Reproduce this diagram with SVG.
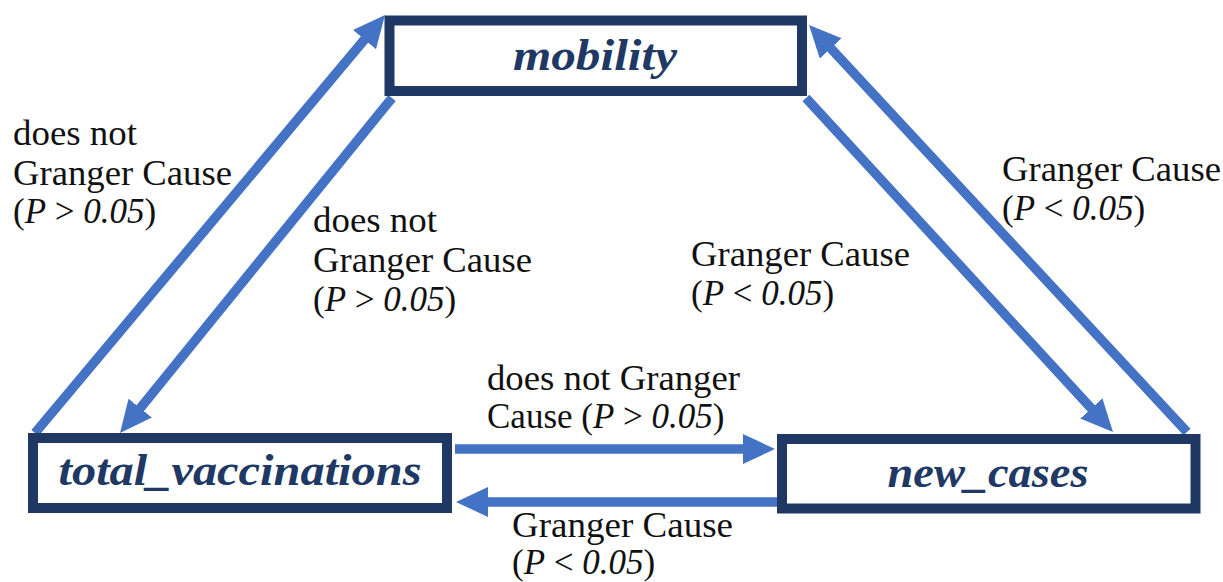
<svg xmlns="http://www.w3.org/2000/svg" width="1223" height="582" viewBox="0 0 1223 582">
  <style>
    .node rect { fill: #ffffff; stroke: #203864; stroke-width: 10; }
    .node text { font-family: "Liberation Serif", "Times New Roman", serif; font-style: italic; font-weight: bold; font-size: 44px; fill: #203864; text-anchor: middle; }
    .conn line { stroke: #4472C4; stroke-width: 9.5; fill: none; marker-end: url(#ah); }
    .lbl { font-family: "Liberation Serif", "Times New Roman", serif; font-size: 35px; fill: #111111; }
    .it { font-style: italic; }
  </style>
  <defs>
    <marker id="ah" markerUnits="userSpaceOnUse" viewBox="0 0 32 30" markerWidth="32" markerHeight="30" refX="10" refY="15" orient="auto">
      <path d="M0,0 L32,15 L0,30 z" fill="#4472C4"/>
    </marker>
  </defs>
  <rect width="1223" height="582" fill="#ffffff"/>

  <g id="connectors" class="conn">
    <line x1="35" y1="433" x2="370.9" y2="31.9"/>
    <line x1="392" y1="98" x2="133.9" y2="415.9"/>
    <line x1="806" y1="98" x2="1098.1" y2="415.8"/>
    <line x1="1187" y1="432" x2="824" y2="41.1"/>
    <line x1="455" y1="449" x2="753" y2="449"/>
    <line x1="777" y1="502" x2="478" y2="502"/>
  </g>

  <g id="node-mobility" class="node">
    <rect x="389.5" y="20.5" width="412.5" height="70.5"/>
    <text x="595" y="70" textLength="164" lengthAdjust="spacingAndGlyphs">mobility</text>
  </g>
  <g id="node-total_vaccinations" class="node">
    <rect x="33" y="438" width="414" height="70"/>
    <text x="240" y="485" textLength="363" lengthAdjust="spacingAndGlyphs">total_vaccinations</text>
  </g>
  <g id="node-new_cases" class="node">
    <rect x="782" y="439" width="413.5" height="69.5"/>
    <text x="988" y="487" textLength="201" lengthAdjust="spacingAndGlyphs">new_cases</text>
  </g>

  <g id="labels">
    <text class="lbl" x="13" y="145" textLength="124" lengthAdjust="spacingAndGlyphs">does not</text>
    <text class="lbl" x="13" y="185" textLength="219" lengthAdjust="spacingAndGlyphs">Granger Cause</text>
    <text class="lbl" x="13" y="223">(<tspan class="it">P</tspan> &gt; <tspan class="it">0.05</tspan>)</text>

    <text class="lbl" x="313" y="232" textLength="124" lengthAdjust="spacingAndGlyphs">does not</text>
    <text class="lbl" x="313" y="272" textLength="219" lengthAdjust="spacingAndGlyphs">Granger Cause</text>
    <text class="lbl" x="313" y="311">(<tspan class="it">P</tspan> &gt; <tspan class="it">0.05</tspan>)</text>

    <text class="lbl" x="1002" y="181" textLength="219" lengthAdjust="spacingAndGlyphs">Granger Cause</text>
    <text class="lbl" x="1002" y="220">(<tspan class="it">P</tspan> &lt; <tspan class="it">0.05</tspan>)</text>

    <text class="lbl" x="691" y="266" textLength="219" lengthAdjust="spacingAndGlyphs">Granger Cause</text>
    <text class="lbl" x="691" y="305">(<tspan class="it">P</tspan> &lt; <tspan class="it">0.05</tspan>)</text>

    <text class="lbl" x="487" y="390" textLength="253" lengthAdjust="spacingAndGlyphs">does not Granger</text>
    <text class="lbl" x="487" y="428">Cause (<tspan class="it">P</tspan> &gt; <tspan class="it">0.05</tspan>)</text>

    <text class="lbl" x="512" y="537" textLength="221" lengthAdjust="spacingAndGlyphs">Granger Cause</text>
    <text class="lbl" x="512" y="574">(<tspan class="it">P</tspan> &lt; <tspan class="it">0.05</tspan>)</text>
  </g>
</svg>
